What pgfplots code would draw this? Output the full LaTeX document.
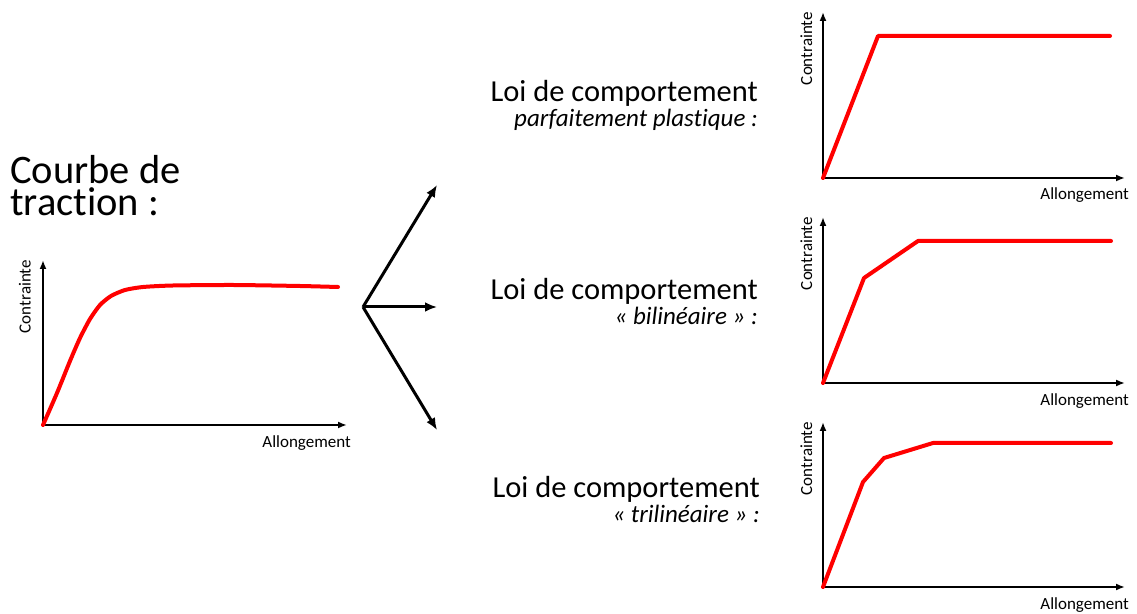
\documentclass[border=0pt]{standalone}
\usepackage{fontspec}
\setmainfont[Ligatures=NoCommon]{Carlito}
\usepackage{pgfplots}
\pgfplotsset{compat=1.18}
\usetikzlibrary{arrows.meta}

% one style for the four little stress/strain sketches
\pgfplotsset{loi/.style={
    scale only axis, axis lines=left, ticks=none,
    enlargelimits=false, clip=false,
    xmin=0, ymin=0,
    axis line style={line width=1.8pt, -{Latex[length=9pt,width=7pt]}},
    xlabel=Allongement, ylabel=Contrainte,
    xlabel style={at={(axis description cs:1,0)}, anchor=north east,
        inner sep=0pt, xshift=4pt, yshift=-10pt, font=\fontsize{17}{20}\selectfont},
    ylabel style={at={(axis description cs:-0.055,1)}, anchor=east,
        inner sep=0pt, font=\fontsize{17}{20}\selectfont},
  },
  trait/.style={red, no marks, line width=4pt, line join=round, line cap=round},
}

\begin{document}
\begin{tikzpicture}
\path[use as bounding box] (0,0) rectangle (1137pt,613pt);

% courbe de traction
\node[anchor=base west, inner sep=0pt, font=\fontsize{40.5}{41}\selectfont] at (10pt,429pt) {Courbe de};
\node[anchor=base west, inner sep=0pt, font=\fontsize{40.5}{41}\selectfont] at (10pt,397pt) {traction :};
\begin{axis}[loi, at={(43pt,188pt)}, anchor=origin, width=304pt, height=165pt,
    xmax=304, ymax=165, ylabel style={at={(axis description cs:-0.06,1)}}]
  \addplot[trait, smooth, tension=0.4] coordinates {(0,0) (14,32) (27,64) (37,87) (47,106) (57,120)
    (68,129) (82,135) (100,138) (130,139.5) (190,140) (257,139) (295,138)};
\end{axis}

% fleches
\draw[line width=3pt, -{Latex[length=12pt,width=10pt]}] (363pt,306pt) -- (437pt,428pt);
\draw[line width=3pt, -{Latex[length=12pt,width=10pt]}] (363pt,306pt) -- (437pt,306pt);
\draw[line width=3pt, -{Latex[length=12pt,width=10pt]}] (363pt,306pt) -- (437pt,183pt);

% titres
\node[anchor=base east, inner sep=0pt, font=\fontsize{30.5}{32}\selectfont] at (758pt,511pt) {Loi de comportement};
\node[anchor=base east, inner sep=0pt, font=\fontsize{25}{28}\selectfont\itshape] at (758pt,486pt) {parfaitement plastique :};
\node[anchor=base east, inner sep=0pt, font=\fontsize{30.5}{32}\selectfont] at (758pt,313pt) {Loi de comportement};
\node[anchor=base east, inner sep=0pt, font=\fontsize{25}{28}\selectfont\itshape] at (758pt,288pt) {« bilinéaire » :};
\node[anchor=base east, inner sep=0pt, font=\fontsize{30.5}{32}\selectfont] at (760pt,115pt) {Loi de comportement};
\node[anchor=base east, inner sep=0pt, font=\fontsize{25}{28}\selectfont\itshape] at (760pt,90pt) {« trilinéaire » :};

% parfaitement plastique
\begin{axis}[loi, at={(823pt,435pt)}, anchor=origin, width=302pt, height=166pt,
    xmax=302, ymax=166]
  \addplot[trait] coordinates {(0,0) (55,142) (287,142)};
\end{axis}

% bilineaire
\begin{axis}[loi, at={(823pt,230pt)}, anchor=origin, width=302pt, height=166pt,
    xmax=302, ymax=166]
  \addplot[trait] coordinates {(0,0) (41,105) (95,142) (288,142)};
\end{axis}

% trilineaire
\begin{axis}[loi, at={(823pt,26pt)}, anchor=origin, width=302pt, height=165pt,
    xmax=302, ymax=165]
  \addplot[trait] coordinates {(0,0) (40,105) (61,129) (110,144) (288,144)};
\end{axis}
\end{tikzpicture}
\end{document}
